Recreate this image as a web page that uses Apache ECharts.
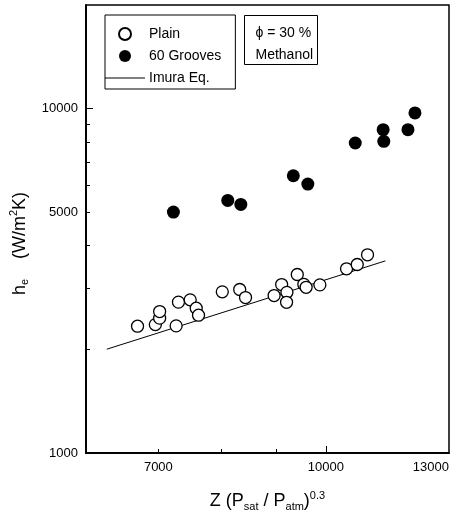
<!DOCTYPE html>
<html>
<head>
<meta charset="utf-8">
<script src="https://cdn.jsdelivr.net/npm/echarts@6/dist/echarts.min.js"></script>
<style>
html, body { margin: 0; padding: 0; background: #fff; }
#main { width: 465px; height: 517px; }
</style>
</head>
<body>
<div id="main"></div>
<script>
// data: [Z (Psat/Patm)^0.3, he]
var plainData = [
    [6696, 2335], [6955, 2360], [7019, 2464], [7019, 2575], [7270, 2340],
    [7306, 2743], [7491, 2785], [7588, 2634], [7625, 2513], [8021, 2938],
    [8324, 2984], [8428, 2828], [8957, 2866], [9102, 3085], [9205, 2928],
    [9198, 2739], [9410, 3299], [9542, 3089], [9589, 3028], [9874, 3078],
    [10451, 3427], [10692, 3527], [10929, 3763]
];
var grooveData = [
    [7228, 5008], [8115, 5413], [8344, 5270], [9331, 6386], [9624, 6040],
    [10647, 7949], [11299, 8690], [11314, 8035], [11912, 8690], [12091, 9716]
];
var imuraData = [[6272, 2002], [11353, 3614]];

// ticks and labels
var xLabels = [7000, 10000, 13000];
var xMajorTicks = [10000];
var xMinorTicks = [7000, 8000, 9000];
var yLabels = [1000, 5000, 10000];
var yMajorTicks = [1000, 10000];
var yMinorTicks = [2000, 3000, 4000, 5000, 6000, 7000, 8000, 9000];
var noteLines = ['ϕ = 30 %', 'Methanol'];

var FONT = 'Liberation Sans, Arial, sans-serif';
var chart = echarts.init(document.getElementById('main'));

var baseX = {
    type: 'log', logBase: 10, min: 6000, max: 13000,
    position: 'bottom', offset: 0,
    axisLine: { show: true, lineStyle: { color: '#000', width: 1.5 } },
    splitLine: { show: false },
    minorTick: { show: false }
};
var baseY = {
    type: 'log', logBase: 10, min: 1000, max: 20000,
    position: 'left', offset: 0,
    axisLine: { show: true, lineStyle: { color: '#000', width: 1.5 } },
    splitLine: { show: false },
    minorTick: { show: false }
};

// rich text pieces for the axis names (sub / superscripts)
var richMain = { fontSize: 18, fontFamily: FONT, color: '#000', lineHeight: 22 };
var richSub = { fontSize: 11, fontFamily: FONT, color: '#000', lineHeight: 11, verticalAlign: 'bottom', padding: [9, 0, 0, 0] };
var richSup = { fontSize: 11, fontFamily: FONT, color: '#000', lineHeight: 11, verticalAlign: 'top', padding: [0, 0, 7, 0] };

var option = {
    animation: false,
    backgroundColor: '#fff',
    textStyle: { fontFamily: FONT },
    grid: {
        left: 86, right: 16, top: 5, bottom: 64,
        show: true, borderColor: '#000', borderWidth: 1.5,
        containLabel: false
    },
    xAxis: [
        Object.assign({}, baseX, {
            axisTick: { show: true, inside: true, length: 7, customValues: xMajorTicks, lineStyle: { color: '#000', width: 1 } },
            axisLabel: {
                show: true, customValues: xLabels, margin: 8,
                color: '#000', fontSize: 13, fontFamily: FONT,
                alignMaxLabel: 'right',
                formatter: function (v) { return String(Math.round(v)); }
            },
            name: '{t|Z (P}{s|sat}{t| / P}{s|atm}{t|)}{p|0.3}',
            nameLocation: 'middle',
            nameGap: 37,
            nameTextStyle: { rich: { t: richMain, s: richSub, p: richSup } }
        }),
        Object.assign({}, baseX, {
            axisTick: { show: true, inside: true, length: 4, customValues: xMinorTicks, lineStyle: { color: '#000', width: 1 } },
            axisLabel: { show: false }
        })
    ],
    yAxis: [
        Object.assign({}, baseY, {
            axisTick: { show: true, inside: true, length: 7, customValues: yMajorTicks, lineStyle: { color: '#000', width: 1 } },
            axisLabel: {
                show: true, customValues: yLabels, margin: 8,
                color: '#000', fontSize: 13, fontFamily: FONT,
                formatter: function (v) { return String(Math.round(v)); }
            },
            name: '{t|h}{s|e}{t|    (W/m}{p|2}{k|K)}',
            nameLocation: 'middle',
            nameRotate: 90,
            nameGap: 49,
            nameTextStyle: {
                rich: {
                    t: richMain, s: richSub, p: richSup,
                    k: Object.assign({}, richMain, { padding: [0, 29, 0, 0] })
                }
            }
        }),
        Object.assign({}, baseY, {
            axisTick: { show: true, inside: true, length: 4, customValues: yMinorTicks, lineStyle: { color: '#000', width: 1 } },
            axisLabel: { show: false }
        })
    ],
    legend: {
        orient: 'vertical',
        left: 105, top: 15,
        padding: [12, 14, 4, 0],
        itemWidth: 40, itemHeight: 12, itemGap: 8,
        borderColor: '#000', borderWidth: 1,
        backgroundColor: '#fff',
        textStyle: { fontSize: 14, fontFamily: FONT, color: '#000', padding: [0, 0, 0, -1] },
        data: [
            'Plain',
            '60 Grooves',
            { name: 'Imura Eq.', icon: 'path://M0,0 L40,0 L40,1 L0,1 Z', itemStyle: { color: '#000' } }
        ]
    },
    // the "phi = 30 % / Methanol" note box
    graphic: [{
        type: 'group', left: 244, top: 15,
        children: [
            { type: 'rect', shape: { x: 0, y: 0, width: 73, height: 49 }, style: { fill: '#fff', stroke: '#000', lineWidth: 1 } },
            { type: 'text', x: 11, y: 18, style: { text: noteLines[0], font: '14px ' + FONT, fill: '#000', verticalAlign: 'middle' } },
            { type: 'text', x: 11, y: 40, style: { text: noteLines[1], font: '14px ' + FONT, fill: '#000', verticalAlign: 'middle' } }
        ]
    }],
    series: [
        {
            name: 'Imura Eq.', type: 'line', data: imuraData,
            xAxisIndex: 0, yAxisIndex: 0,
            symbol: 'none', z: 1,
            lineStyle: { color: '#000', width: 1 },
            itemStyle: { color: '#000' }
        },
        {
            name: 'Plain', type: 'scatter', data: plainData,
            xAxisIndex: 0, yAxisIndex: 0,
            symbol: 'circle', symbolSize: 12, z: 3,
            itemStyle: { color: '#fff', borderColor: '#000', borderWidth: 1.3, opacity: 1 }
        },
        {
            name: '60 Grooves', type: 'scatter', data: grooveData,
            xAxisIndex: 0, yAxisIndex: 0,
            symbol: 'circle', symbolSize: 13, z: 3,
            itemStyle: { color: '#000', opacity: 1 }
        }
    ]
};
chart.setOption(option);
</script>
</body>
</html>
